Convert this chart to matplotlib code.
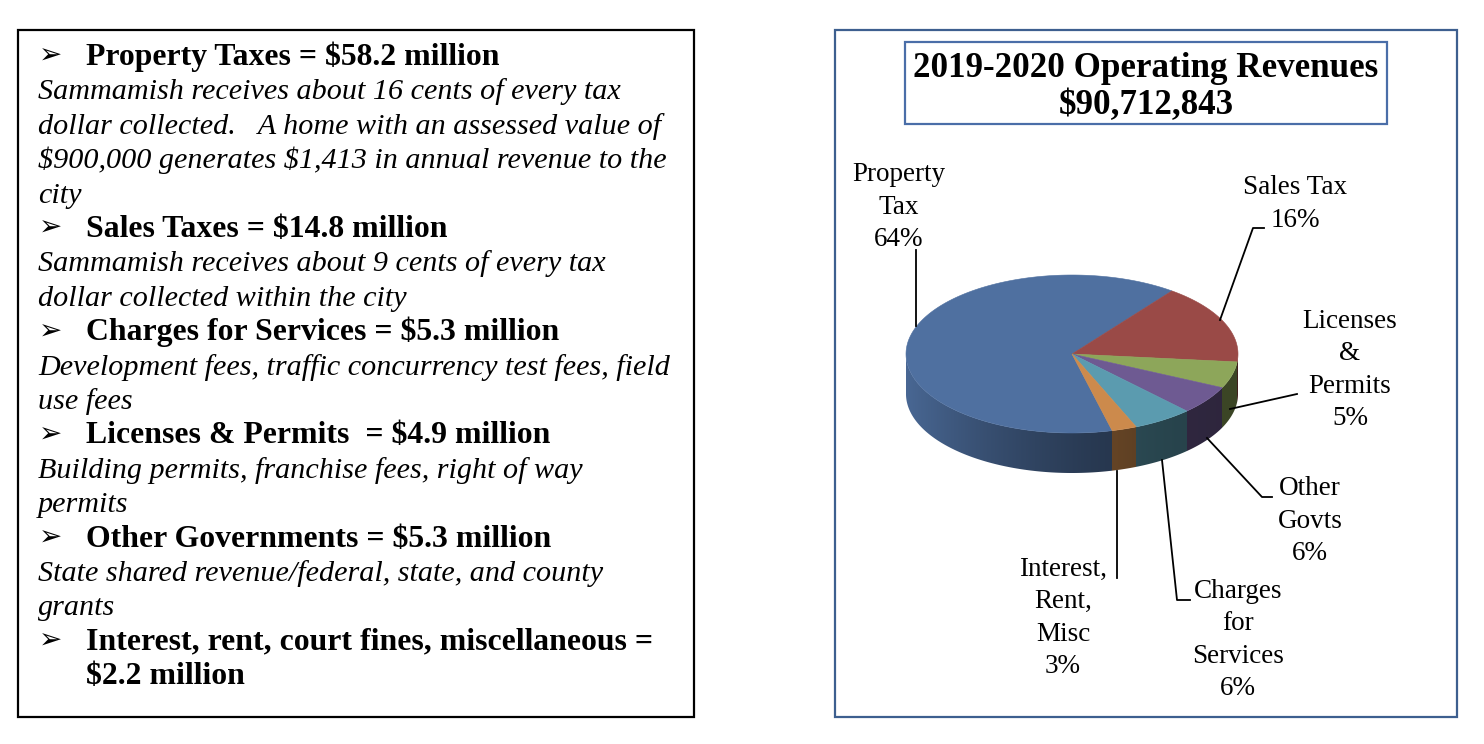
import numpy as np
import matplotlib
matplotlib.use('Agg')
import matplotlib.pyplot as plt
from matplotlib.patches import Rectangle, Polygon

# revenue pieces, $ millions (clockwise order on the pie)
categories = ['Property Tax', 'Sales Tax', 'Licenses & Permits', 'Other Govts',
              'Charges for Services', 'Interest, Rent, Misc']
values = [58.2, 14.8, 4.9, 5.3, 5.3, 2.2]
pie_labels = ['Property\nTax\n64%', 'Sales Tax\n16%', 'Licenses\n&\nPermits\n5%',
              'Other\nGovts\n6%', 'Charges\nfor\nServices\n6%', 'Interest,\nRent,\nMisc\n3%']
top_colors = ['#4f70a0', '#9a4a47', '#8da65a', '#6e5a92', '#5b9baf', '#cc8a4c']

title_lines = ['2019-2020 Operating Revenues', '$90,712,843']

# left panel text: (style, text)
notes = [
    ('head', 'Property Taxes = $58.2 million'),
    ('body', 'Sammamish receives about 16 cents of every tax'),
    ('body', 'dollar collected.   A home with an assessed value of'),
    ('body', '$900,000 generates $1,413 in annual revenue to the'),
    ('body', 'city'),
    ('head', 'Sales Taxes = $14.8 million'),
    ('body', 'Sammamish receives about 9 cents of every tax'),
    ('body', 'dollar collected within the city'),
    ('head', 'Charges for Services = $5.3 million'),
    ('body', 'Development fees, traffic concurrency test fees, field'),
    ('body', 'use fees'),
    ('head', 'Licenses & Permits  = $4.9 million'),
    ('body', 'Building permits, franchise fees, right of way'),
    ('body', 'permits'),
    ('head', 'Other Governments = $5.3 million'),
    ('body', 'State shared revenue/federal, state, and county'),
    ('body', 'grants'),
    ('head', 'Interest, rent, court fines, miscellaneous ='),
    ('cont', '$2.2 million'),
]

SERIF = ['Liberation Serif', 'DejaVu Serif']

fig = plt.figure(figsize=(14.84, 7.44), dpi=100)
ax = fig.add_axes([0, 0, 1, 1])
ax.set_xlim(0, 1484)
ax.set_ylim(744, 0)
ax.axis('off')

# ---------------- left text box ----------------
ax.add_patch(Rectangle((18, 30), 676, 687, fill=False, edgecolor='black', lw=1.6))
for i, (kind, txt) in enumerate(notes):
    y = 65 + 34.4 * i
    if kind == 'head':
        ax.text(39, y - 1, '\u27a2', family=['DejaVu Sans'], fontsize=20, va='baseline', ha='left')
    if kind in ('head', 'cont'):
        ax.text(86, y, txt, family=SERIF, fontweight='bold', fontsize=22.9, va='baseline',
                ha='left', parse_math=False)
    else:
        ax.text(38, y, txt, family=SERIF, style='italic', fontsize=21.7, va='baseline',
                ha='left', parse_math=False)

# ---------------- right chart box ----------------
ax.add_patch(Rectangle((835, 30), 622, 687, fill=False, edgecolor='#3d5f8f', lw=1.6))
ax.add_patch(Rectangle((905, 42), 482, 82, fill=False, edgecolor='#4a6ea8', lw=1.6))
ax.text(1146, 77, title_lines[0], family=SERIF, fontweight='bold', fontsize=25.2,
        ha='center', va='baseline', parse_math=False)
ax.text(1146, 114, title_lines[1], family=SERIF, fontweight='bold', fontsize=25.2,
        ha='center', va='baseline', parse_math=False)

# ---------------- 3D pie ----------------
cx, cy, ra, rb, depth = 1072, 354, 166, 79, 40
vals = np.array(values)
frac = vals / vals.sum()
start = 53 + 360 * frac[0]           # blue slice begins here, going clockwise
edges = start - 360 * np.concatenate([[0], np.cumsum(frac)])


def ell(t_deg, dy=0):
    t = np.radians(t_deg)
    return cx + ra * np.cos(t), cy - rb * np.sin(t) + dy


def slice_of(t):
    # map an angle to the slice index
    for k in range(len(vals)):
        hi, lo = edges[k], edges[k + 1]
        tt = t
        while tt > hi:
            tt -= 360
        while tt < lo:
            tt += 360
        if lo <= tt <= hi:
            return k
    return 0


# side wall: colour depends only on x along the front half
ncol = 1200
xs_side = np.linspace(cx - ra, cx + ra, ncol)
side = np.zeros((2, ncol, 3))
for j, x in enumerate(xs_side):
    c = np.clip((x - cx) / ra, -1, 1)
    t = -np.degrees(np.arccos(c))
    k = slice_of(t)
    f = 0.42 + 0.5 * ((1 - np.cos(np.radians(t))) / 2) ** 2
    side[:, j, :] = np.array(matplotlib.colors.to_rgb(top_colors[k])) * f
im = ax.imshow(side, extent=(cx - ra, cx + ra, cy + rb + depth + 2, cy - 2),
               aspect='auto', interpolation='nearest', zorder=1)
ts = np.linspace(180, 360, 300)
outline = [ell(t) for t in ts] + [ell(t, depth) for t in ts[::-1]]
clip = Polygon(outline, closed=True, transform=ax.transData)
im.set_clip_path(clip)

# top surface
for k in range(len(vals)):
    ts = np.linspace(edges[k], edges[k + 1], 200)
    pts = [(cx, cy)] + [ell(t) for t in ts]
    ax.add_patch(Polygon(pts, closed=True, facecolor=top_colors[k],
                         edgecolor=top_colors[k], lw=0.4, zorder=2))

ax.set_xlim(0, 1484)
ax.set_ylim(744, 0)

# labels and leader lines
label_pos = [(899, 207), (1295, 204), (1350, 370), (1310, 521), (1238, 640), (1063, 618)]
leaders = [
    [(916, 326), (916, 250)],
    [(1220, 320), (1253, 228), (1264, 228)],
    [(1230, 409), (1297, 394)],
    [(1207, 438), (1262, 497), (1272, 497)],
    [(1162, 460), (1177, 600), (1190, 600)],
    [(1117, 471), (1117, 578)],
]
for lbl, (lx, ly), ln in zip(pie_labels, label_pos, leaders):
    ax.text(lx, ly, lbl, family=SERIF, fontsize=19.5, ha='center', va='center',
            linespacing=1.38)
    xs, ys = zip(*ln)
    ax.plot(xs, ys, color='black', lw=1.3, zorder=3)

fig.savefig('out.png', dpi=100)
